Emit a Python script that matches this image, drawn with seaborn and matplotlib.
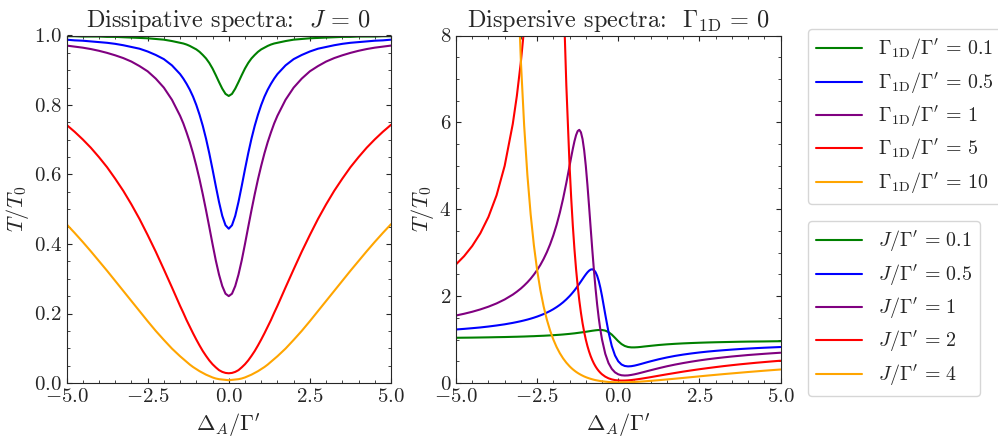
import matplotlib
matplotlib.use("Agg")
import matplotlib.pyplot as plt
from matplotlib.ticker import MultipleLocator
from matplotlib.lines import Line2D
import seaborn as sns
import pandas as pd

# ---- Dissipative spectra (J = 0): T/T0 versus detuning ----
x_diss = [-5, -4.75, -4.5, -4.25, -4, -3.75, -3.5, -3.25, -3, -2.75, -2.5, -2.25, -2,
          -1.75, -1.5, -1.4, -1.3, -1.2, -1.1, -1.0, -0.9, -0.8, -0.7, -0.6, -0.5, -0.4,
          -0.3, -0.2, -0.1, 0, 0.1, 0.2, 0.3, 0.4, 0.5, 0.6, 0.7, 0.8, 0.9, 1.0, 1.1, 1.2,
          1.3, 1.4, 1.5, 1.75, 2, 2.25, 2.5, 2.75, 3, 3.25, 3.5, 3.75, 4, 4.25, 4.5, 4.75, 5]
gamma_labels = ["0.1", "0.5", "1", "5", "10"]
diss_g01 = [0.998, 0.998, 0.997, 0.997, 0.997, 0.996, 0.996, 0.995, 0.994, 0.993, 0.992,
            0.990, 0.988, 0.984, 0.979, 0.977, 0.974, 0.970, 0.965, 0.960, 0.953, 0.944,
            0.934, 0.921, 0.905, 0.886, 0.866, 0.847, 0.832, 0.826, 0.832, 0.847, 0.866,
            0.886, 0.905, 0.921, 0.934, 0.944, 0.953, 0.960, 0.965, 0.970, 0.974, 0.977,
            0.979, 0.984, 0.988, 0.990, 0.992, 0.993, 0.994, 0.995, 0.996, 0.996, 0.997,
            0.997, 0.997, 0.998, 0.998]
diss_g05 = [0.988, 0.986, 0.985, 0.983, 0.981, 0.979, 0.976, 0.972, 0.967, 0.962, 0.954,
            0.944, 0.932, 0.914, 0.889, 0.876, 0.861, 0.844, 0.824, 0.800, 0.772, 0.740,
            0.703, 0.661, 0.615, 0.567, 0.521, 0.481, 0.454, 0.444, 0.454, 0.481, 0.521,
            0.567, 0.615, 0.661, 0.703, 0.740, 0.772, 0.800, 0.824, 0.844, 0.861, 0.876,
            0.889, 0.914, 0.932, 0.944, 0.954, 0.962, 0.967, 0.972, 0.976, 0.979, 0.981,
            0.983, 0.985, 0.986, 0.988]
diss_g1 = [0.971, 0.968, 0.965, 0.961, 0.956, 0.950, 0.943, 0.935, 0.925, 0.912, 0.897,
           0.876, 0.850, 0.815, 0.769, 0.747, 0.721, 0.693, 0.661, 0.625, 0.586, 0.543,
           0.497, 0.449, 0.400, 0.353, 0.312, 0.279, 0.257, 0.250, 0.257, 0.279, 0.312,
           0.353, 0.400, 0.449, 0.497, 0.543, 0.586, 0.625, 0.661, 0.693, 0.721, 0.747,
           0.769, 0.815, 0.850, 0.876, 0.897, 0.912, 0.925, 0.935, 0.943, 0.950, 0.956,
           0.961, 0.965, 0.968, 0.971]
diss_g5 = [0.743, 0.723, 0.701, 0.677, 0.650, 0.621, 0.588, 0.553, 0.514, 0.472, 0.426,
           0.378, 0.327, 0.275, 0.222, 0.202, 0.181, 0.162, 0.143, 0.125, 0.108, 0.092,
           0.078, 0.065, 0.054, 0.045, 0.037, 0.032, 0.029, 0.028, 0.029, 0.032, 0.037,
           0.045, 0.054, 0.065, 0.078, 0.092, 0.108, 0.125, 0.143, 0.162, 0.181, 0.202,
           0.222, 0.275, 0.327, 0.378, 0.426, 0.472, 0.514, 0.553, 0.588, 0.621, 0.650,
           0.677, 0.701, 0.723, 0.743]
diss_g10 = [0.457, 0.432, 0.406, 0.379, 0.351, 0.323, 0.294, 0.265, 0.236, 0.207, 0.178,
            0.150, 0.124, 0.099, 0.077, 0.069, 0.061, 0.053, 0.046, 0.040, 0.034, 0.029,
            0.024, 0.020, 0.016, 0.013, 0.011, 0.010, 0.009, 0.008, 0.009, 0.010, 0.011,
            0.013, 0.016, 0.020, 0.024, 0.029, 0.034, 0.040, 0.046, 0.053, 0.061, 0.069,
            0.077, 0.099, 0.124, 0.150, 0.178, 0.207, 0.236, 0.265, 0.294, 0.323, 0.351,
            0.379, 0.406, 0.432, 0.457]

# ---- Dispersive spectra (Gamma_1D = 0): T/T0 versus detuning ----
x_disp = [-5, -4.75, -4.5, -4.25, -4, -3.75, -3.5, -3.25, -3.125, -3.0, -2.9, -2.8, -2.7,
          -2.6, -2.5, -2.4, -2.3, -2.2, -2.1, -2.0, -1.9, -1.8, -1.7, -1.6, -1.5, -1.45,
          -1.4, -1.35, -1.3, -1.25, -1.2, -1.15, -1.1, -1.05, -1.0, -0.95, -0.9, -0.85,
          -0.8, -0.75, -0.7, -0.65, -0.6, -0.55, -0.5, -0.4, -0.3, -0.2, -0.1, 0, 0.1, 0.2,
          0.3, 0.4, 0.5, 0.6, 0.7, 0.8, 0.9, 1.0, 1.25, 1.5, 1.75, 2, 2.25, 2.5, 2.75, 3,
          3.25, 3.5, 3.75, 4, 4.25, 4.5, 4.75, 5]
j_labels = ["0.1", "0.5", "1", "2", "4"]
disp_j01 = [1.041, 1.043, 1.045, 1.048, 1.051, 1.055, 1.058, 1.063, 1.065, 1.068, 1.070,
            1.073, 1.076, 1.078, 1.082, 1.085, 1.088, 1.092, 1.096, 1.101, 1.106, 1.111,
            1.117, 1.124, 1.131, 1.135, 1.139, 1.143, 1.148, 1.153, 1.158, 1.163, 1.168,
            1.174, 1.179, 1.185, 1.191, 1.197, 1.203, 1.208, 1.213, 1.217, 1.220, 1.221,
            1.220, 1.206, 1.172, 1.115, 1.040, 0.962, 0.897, 0.853, 0.829, 0.820, 0.820,
            0.824, 0.831, 0.840, 0.848, 0.856, 0.875, 0.890, 0.902, 0.912, 0.920, 0.927,
            0.933, 0.938, 0.942, 0.946, 0.950, 0.953, 0.955, 0.957, 0.960, 0.962]
disp_j05 = [1.232, 1.246, 1.262, 1.279, 1.300, 1.324, 1.351, 1.384, 1.403, 1.423, 1.441,
            1.460, 1.481, 1.504, 1.529, 1.557, 1.587, 1.621, 1.658, 1.700, 1.747, 1.799,
            1.858, 1.925, 2.000, 2.041, 2.085, 2.131, 2.180, 2.231, 2.284, 2.338, 2.393,
            2.448, 2.500, 2.547, 2.585, 2.611, 2.618, 2.600, 2.552, 2.468, 2.346, 2.188,
            2.000, 1.577, 1.172, 0.853, 0.634, 0.500, 0.426, 0.392, 0.382, 0.387, 0.400,
            0.418, 0.438, 0.459, 0.480, 0.500, 0.547, 0.588, 0.624, 0.654, 0.680, 0.703,
            0.723, 0.740, 0.755, 0.769, 0.782, 0.793, 0.803, 0.812, 0.820, 0.828]
disp_j1 = [1.554, 1.594, 1.640, 1.694, 1.757, 1.832, 1.923, 2.035, 2.102, 2.176, 2.244,
           2.318, 2.401, 2.495, 2.600, 2.719, 2.856, 3.012, 3.192, 3.400, 3.642, 3.921,
           4.243, 4.607, 5.000, 5.199, 5.390, 5.564, 5.706, 5.800, 5.828, 5.771, 5.615,
           5.356, 5.000, 4.564, 4.077, 3.569, 3.069, 2.600, 2.176, 1.805, 1.488, 1.221,
           1.000, 0.672, 0.459, 0.326, 0.245, 0.200, 0.178, 0.172, 0.175, 0.186, 0.200,
           0.217, 0.236, 0.255, 0.275, 0.294, 0.341, 0.385, 0.424, 0.459, 0.491, 0.520,
           0.546, 0.569, 0.590, 0.610, 0.627, 0.644, 0.658, 0.672, 0.685, 0.697]
disp_j2 = [2.730, 2.920, 3.154, 3.447, 3.824, 4.321, 5.000, 5.966, 6.608, 7.400, 8.170,
           9.090, 10.19, 11.49, 13.00, 14.66, 16.29, 17.55, 17.92, 17.00, 14.85, 12.03,
           9.235, 6.854, 5.000, 4.258, 3.623, 3.082, 2.622, 2.231, 1.899, 1.617, 1.377,
           1.174, 1.000, 0.852, 0.726, 0.618, 0.527, 0.448, 0.381, 0.324, 0.276, 0.235,
           0.200, 0.146, 0.108, 0.083, 0.067, 0.059, 0.056, 0.057, 0.061, 0.068, 0.077,
           0.087, 0.098, 0.110, 0.122, 0.135, 0.168, 0.200, 0.231, 0.262, 0.290, 0.317,
           0.342, 0.366, 0.389, 0.410, 0.430, 0.448, 0.466, 0.482, 0.498, 0.513]
disp_j4 = [20.2, 28.08, 41.0, 58.6, 65.0, 45.8, 25.0, 13.31, 9.862, 7.400, 5.932, 4.787,
           3.887, 3.172, 2.600, 2.139, 1.764, 1.458, 1.207, 1.000, 0.828, 0.686, 0.567,
           0.468, 0.385, 0.348, 0.315, 0.285, 0.257, 0.232, 0.209, 0.188, 0.169, 0.151,
           0.135, 0.121, 0.108, 0.096, 0.085, 0.075, 0.066, 0.059, 0.052, 0.045, 0.040,
           0.031, 0.024, 0.020, 0.017, 0.015, 0.015, 0.016, 0.018, 0.021, 0.024, 0.028,
           0.033, 0.038, 0.044, 0.050, 0.065, 0.082, 0.099, 0.117, 0.135, 0.153, 0.171,
           0.188, 0.205, 0.221, 0.237, 0.253, 0.268, 0.283, 0.297, 0.311]

colors = ["green", "blue", "purple", "red", "orange"]

sns.set_style("ticks")
plt.rcParams.update({
    "font.family": "serif",
    "font.serif": ["cmr10"],
    "mathtext.fontset": "cm",
    "axes.formatter.use_mathtext": True,
    "axes.edgecolor": "0.15",
    "xtick.direction": "in",
    "ytick.direction": "in",
    "xtick.top": True,
    "ytick.right": True,
    "xtick.minor.visible": True,
    "ytick.minor.visible": True,
    "xtick.major.size": 3.5,
    "ytick.major.size": 3.5,
    "xtick.minor.size": 2,
    "ytick.minor.size": 2,
})

fig = plt.figure(figsize=(9.98, 4.38), dpi=100)
W, H = 998.0, 438.0
ax1 = fig.add_axes([66.5 / W, 1 - 383 / H, (391 - 66.5) / W, (383 - 35.5) / H])
ax2 = fig.add_axes([456 / W, 1 - 383 / H, (780.5 - 456) / W, (383 - 35.5) / H])

diss_df = pd.DataFrame({"x": x_diss})
for lab, ys in zip(gamma_labels, [diss_g01, diss_g05, diss_g1, diss_g5, diss_g10]):
    diss_df[lab] = ys
disp_df = pd.DataFrame({"x": x_disp})
for lab, ys in zip(j_labels, [disp_j01, disp_j05, disp_j1, disp_j2, disp_j4]):
    disp_df[lab] = ys

for lab, c in zip(gamma_labels, colors):
    sns.lineplot(data=diss_df, x="x", y=lab, ax=ax1, color=c, lw=1.5, sort=False,
                 legend=False)
for lab, c in zip(j_labels, colors):
    sns.lineplot(data=disp_df, x="x", y=lab, ax=ax2, color=c, lw=1.5, sort=False,
                 legend=False)

fs_lab = 16
ax1.set_xlim(-5, 5)
ax1.set_ylim(0, 1)
ax1.set_title(r"Dissipative spectra:  $J\,=\,0$", fontsize=17.5, pad=6)
ax1.set_xlabel(r"$\Delta_A/\Gamma'$", fontsize=fs_lab)
ax1.set_ylabel(r"$T/T_0$", fontsize=fs_lab, labelpad=2)
ax1.xaxis.set_major_locator(MultipleLocator(2.5))
ax1.xaxis.set_minor_locator(MultipleLocator(0.5))
ax1.yaxis.set_major_locator(MultipleLocator(0.2))
ax1.yaxis.set_minor_locator(MultipleLocator(0.05))

ax2.set_xlim(-5, 5)
ax2.set_ylim(0, 8)
ax2.set_title(r"Dispersive spectra:  $\Gamma_{\rm 1D}\,=\,0$", fontsize=17.5, pad=6)
ax2.set_xlabel(r"$\Delta_A/\Gamma'$", fontsize=fs_lab)
ax2.set_ylabel(r"$T/T_0$", fontsize=fs_lab, labelpad=2)
ax2.xaxis.set_major_locator(MultipleLocator(2.5))
ax2.xaxis.set_minor_locator(MultipleLocator(0.5))
ax2.yaxis.set_major_locator(MultipleLocator(2))
ax2.yaxis.set_minor_locator(MultipleLocator(0.5))

for ax in (ax1, ax2):
    ax.tick_params(which="both", labelsize=15, colors="0.15", labelcolor="0.15")

h1 = [Line2D([], [], color=c, lw=1.5) for c in colors]
l1 = [r"$\Gamma_{\rm 1D}/\Gamma'\,=\,%s$" % lab for lab in gamma_labels]
h2 = [Line2D([], [], color=c, lw=1.5) for c in colors]
l2 = [r"$J/\Gamma'\,=\,%s$" % lab for lab in j_labels]

leg_kw = dict(loc="upper left", bbox_transform=fig.transFigure, fontsize=14.4,
              borderaxespad=0, handlelength=2.3, handletextpad=0.8, labelspacing=0.42)
fig.legend(h1, l1, bbox_to_anchor=(808 / W, 1 - 29 / H), **leg_kw)
fig.legend(h2, l2, bbox_to_anchor=(808 / W, 1 - 221 / H), **leg_kw)

fig.savefig("out.png", dpi=100)
